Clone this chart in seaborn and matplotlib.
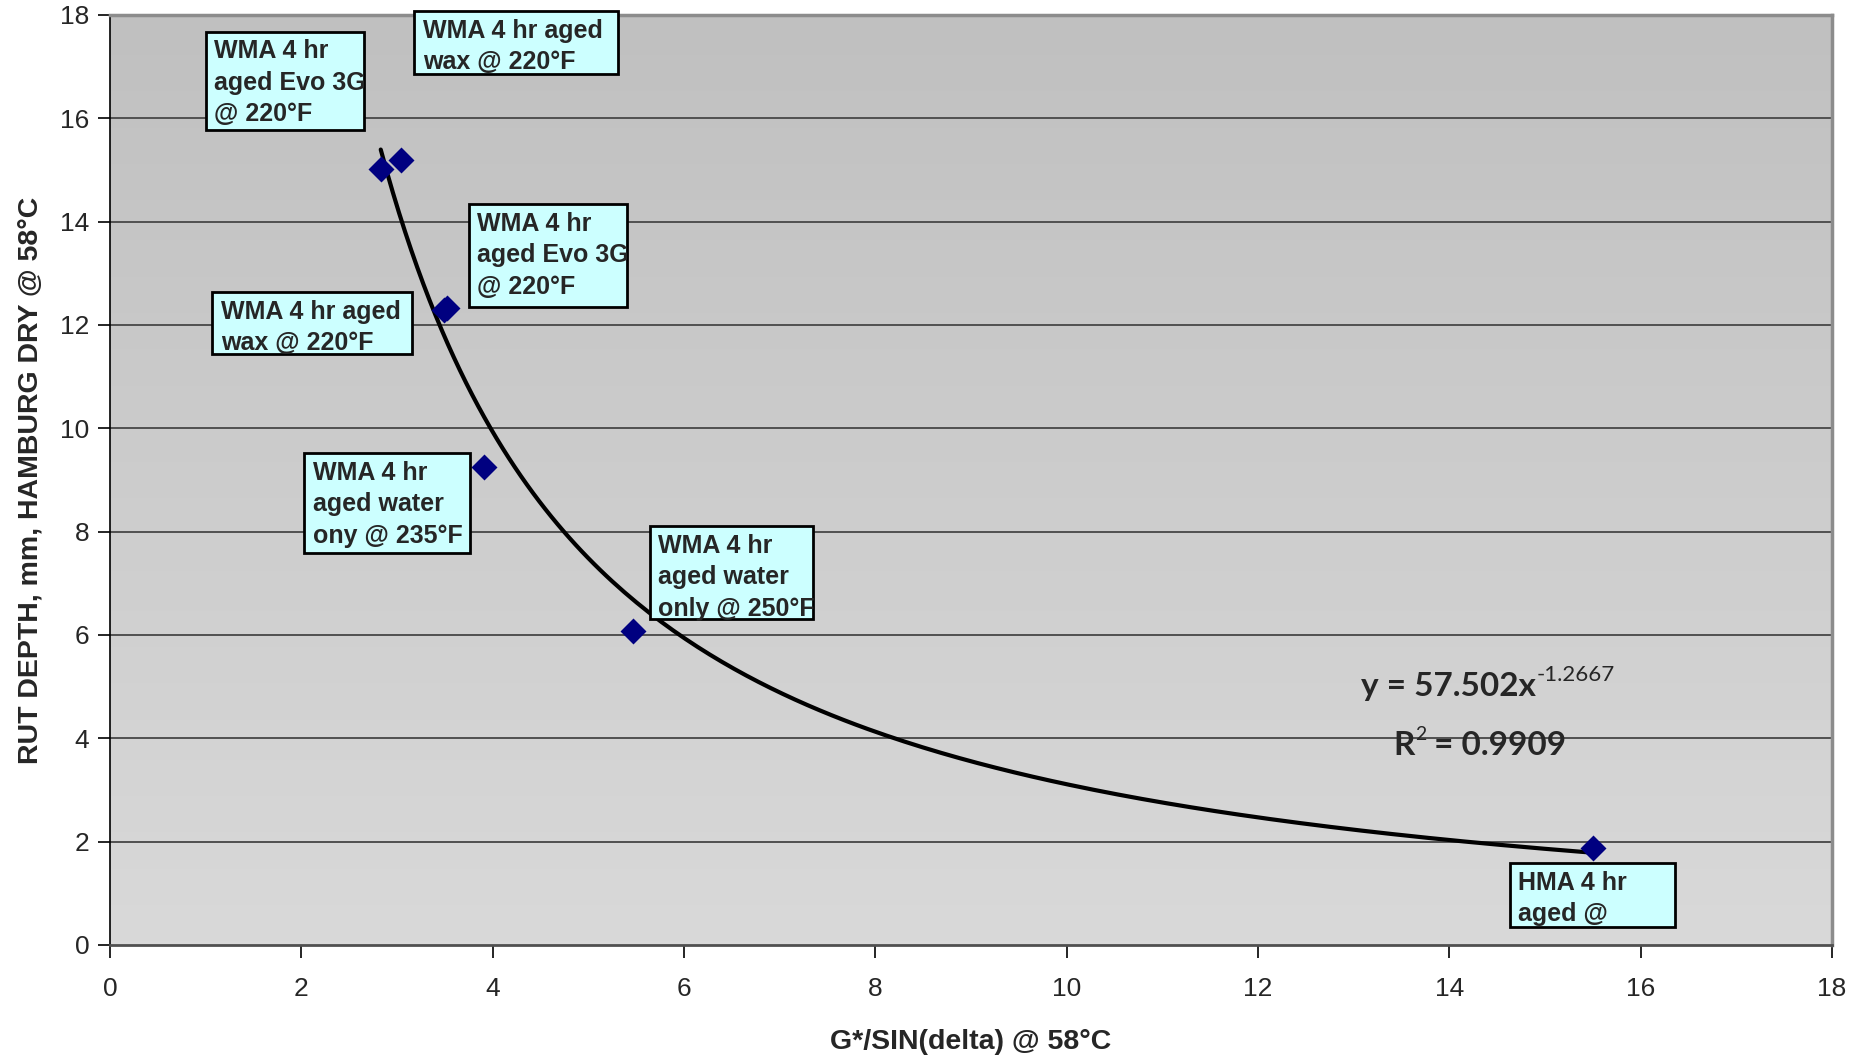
import matplotlib
matplotlib.use("Agg")
import matplotlib.pyplot as plt
import numpy as np
import pandas as pd
import seaborn as sns
from matplotlib.patches import Rectangle

# data
g_sin_delta = [2.83, 3.04, 3.49, 3.52, 3.91, 5.47, 15.50]
rut_depth = [15.02, 15.19, 12.29, 12.33, 9.25, 6.08, 1.88]

# power trendline shown on the chart: y = a * x^b
fit_a = 57.502
fit_b = -1.2667
fit_r2 = 0.9909

label_texts = [
    "WMA 4 hr\naged Evo 3G\n@ 220°F",
    "WMA 4 hr aged\nwax @ 220°F",
    "WMA 4 hr\naged Evo 3G\n@ 220°F",
    "WMA 4 hr aged\nwax @ 220°F",
    "WMA 4 hr\naged water\nony @ 235°F",
    "WMA 4 hr\naged water\nonly @ 250°F",
    "HMA 4 hr\naged @\n",
]
# label boxes: left, top, width, height (data units)
label_boxes = [
    (1.00, 17.68, 1.65, 1.91),
    (3.18, 18.08, 2.13, 1.22),
    (3.75, 14.34, 1.65, 1.99),
    (1.07, 12.64, 2.09, 1.20),
    (2.03, 9.52, 1.73, 1.94),
    (5.64, 8.11, 1.71, 1.80),
    (14.63, 1.59, 1.73, 1.24),
]

df = pd.DataFrame({"x": g_sin_delta, "y": rut_depth})
fit_x = np.linspace(min(g_sin_delta), max(g_sin_delta), 200)
fit_df = pd.DataFrame({"x": fit_x, "y": fit_a * fit_x ** fit_b})

sns.set_theme(style="white")
plt.rcParams["font.family"] = ["Liberation Sans", "DejaVu Sans"]
eq_font = ["Lato", "DejaVu Sans"]

fig = plt.figure(figsize=(18.62, 10.58), dpi=100)
ax = fig.add_axes([110/1862, 1-945/1058, 1722/1862, 930/1058])

# gradient plot background
grad = np.linspace(0, 1, 256).reshape(-1, 1)
ax.imshow(grad, extent=[0, 18, 0, 18], aspect="auto", origin="upper",
          cmap=matplotlib.colors.LinearSegmentedColormap.from_list("bg", ["#c0c0c0", "#d9d9d9"]),
          zorder=0)

for yv in range(2, 19, 2):
    ax.axhline(yv, color="#505050", lw=1.4, zorder=1)

sns.lineplot(data=fit_df, x="x", y="y", color="black", lw=3, ax=ax, zorder=3)
sns.scatterplot(data=df, x="x", y="y", marker="D", s=175, color="#000080",
                edgecolor="#000080", linewidth=0, ax=ax, zorder=4)

for txt, (bx, by, bw, bh) in zip(label_texts, label_boxes):
    rect = Rectangle((bx, by - bh), bw, bh, facecolor="#ccffff", edgecolor="black",
                     lw=2, zorder=5, clip_on=False)
    ax.add_patch(rect)
    t = ax.text(bx + 0.09, by - 0.15, txt, fontsize=18, fontweight="bold", va="top",
                ha="left", linespacing=1.4, zorder=6)
    t.set_clip_path(rect)

eq = ax.text(13.08, 5.0, f"y = {fit_a}x", fontsize=24, fontweight="bold",
             family=eq_font, va="center", ha="left", zorder=6)
ax.annotate(f"{fit_b}", xy=(1, 1), xycoords=eq, fontsize=16, family=eq_font,
            va="top", ha="left", xytext=(0, 5), textcoords="offset points", zorder=6)
r2 = ax.text(13.42, 3.86, "R", fontsize=24, fontweight="bold",
             family=eq_font, va="center", ha="left", zorder=6)
r2s = ax.annotate("2", xy=(1, 1), xycoords=r2, fontsize=14, family=eq_font,
                  va="top", ha="left", xytext=(0, 4), textcoords="offset points", zorder=6)
ax.annotate(f" = {fit_r2}", xy=(1, 0), xycoords=(r2s, r2), fontsize=24, fontweight="bold",
            family=eq_font, va="bottom", ha="left", zorder=6)

ax.set_xlim(0, 18)
ax.set_ylim(0, 18)
ax.set_xticks(range(0, 19, 2))
ax.set_yticks(range(0, 19, 2))
ax.tick_params(axis="both", direction="out", length=9, width=1.2, color="black",
               labelsize=19, bottom=True, left=True)
ax.tick_params(axis="x", pad=14)
ax.tick_params(axis="y", pad=6)

for s in ["top", "right"]:
    ax.spines[s].set_color("#8c8c8c")
    ax.spines[s].set_linewidth(2.5)
ax.spines["left"].set_color("black")
ax.spines["left"].set_linewidth(1.2)
ax.spines["bottom"].set_color("#505050")
ax.spines["bottom"].set_linewidth(2)

ax.set_xlabel("G*/SIN(delta) @ 58°C", fontsize=20.5, fontweight="bold", labelpad=20)
ax.set_ylabel("RUT DEPTH, mm, HAMBURG DRY @ 58°C", fontsize=20.5, fontweight="bold", labelpad=12)

fig.savefig("out.png", dpi=100)
